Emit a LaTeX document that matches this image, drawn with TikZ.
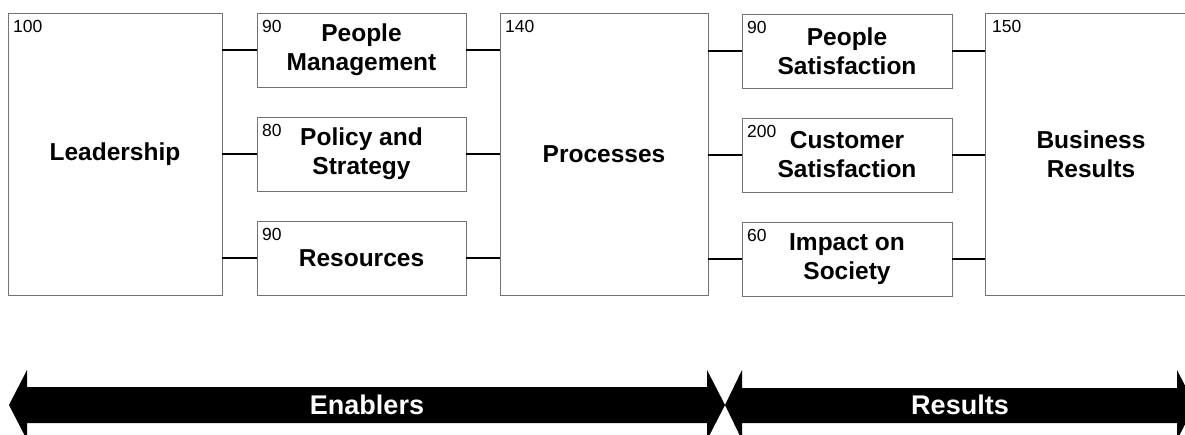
\documentclass[tikz,border=0pt]{standalone}
\usepackage{fontspec}
\setmainfont{Liberation Sans}
\usetikzlibrary{calc}
\begin{document}
\begin{tikzpicture}[x=1pt,y=-1pt,
  box/.style={draw=black!55, line width=0.8pt, inner sep=0pt, outer sep=0pt, anchor=north west, align=center,
    font=\bfseries\fontsize{24.5}{29}\selectfont},
  sbox/.style={box, minimum width=209pt, minimum height=74pt},
  bbox/.style={box, minimum width=212pt, minimum height=282pt},
  num/.style={inner sep=0pt, anchor=base west, font=\fontsize{17.5}{20}\selectfont},
  conn/.style={line width=2.4pt, black},
  band/.style={fill=black},
  bandtext/.style={text=white, font=\bfseries\fontsize{27}{30}\selectfont}]
\useasboundingbox (0,0) rectangle (1185,435);
\clip (0,0) rectangle (1185,435);

% boxes
\node[bbox, minimum width=214pt] (lead) at (8,13) {Leadership};
\node[sbox] (pm) at (257,13) {People\\Management};
\node[sbox] (ps) at (257,117) {Policy and\\Strategy};
\node[sbox] (res) at (257,221) {Resources};
\node[bbox, minimum width=208pt] (proc) at (500,13) {Processes};
\node[sbox, minimum width=210pt] (psat) at (742,14) {People\\Satisfaction};
\node[sbox, minimum width=210pt] (csat) at (742,118) {Customer\\Satisfaction};
\node[sbox, minimum width=210pt] (soc) at (742,222) {Impact on\\Society};
\node[bbox] (br) at (985,13) {Business\\Results};

% numbers
\node[num] (nlead) at ($(lead.north west)+(5,20)$) {100};
\node[num] (npm) at ($(pm.north west)+(5,20)$) {90};
\node[num] (nps) at ($(ps.north west)+(5,20)$) {80};
\node[num] (nres) at ($(res.north west)+(5,20)$) {90};
\node[num] (nproc) at ($(proc.north west)+(5,20)$) {140};
\node[num] (npsat) at ($(psat.north west)+(5,20)$) {90};
\node[num] (ncsat) at ($(csat.north west)+(5,20)$) {200};
\node[num] (nsoc) at ($(soc.north west)+(5,20)$) {60};
\node[num] (nbr) at ($(br.north west)+(7,20)$) {150};

% connectors
\foreach \b in {pm,ps,res}{
  \draw[conn] (lead.east |- \b.west) -- (\b.west);
  \draw[conn] (\b.east) -- (proc.west |- \b.east);
}
\foreach \b in {psat,csat,soc}{
  \draw[conn] (proc.east |- \b.west) -- (\b.west);
  \draw[conn] (\b.east) -- (br.west |- \b.east);
}

% bottom arrows
\fill[band] (9,405) -- (27,370) -- (27,387) -- (707,387) -- (707,370) -- (725,405)
  -- (707,440) -- (707,423) -- (27,423) -- (27,440) -- cycle;
\fill[band] (725,405) -- (742,370) -- (742,388) -- (1177,388) -- (1177,370) -- (1195,405)
  -- (1177,440) -- (1177,423) -- (742,423) -- (742,440) -- cycle;
\node[bandtext] (enab) at (367,405) {Enablers};
\node[bandtext] (resl) at (960,405) {Results};
\end{tikzpicture}
\end{document}
